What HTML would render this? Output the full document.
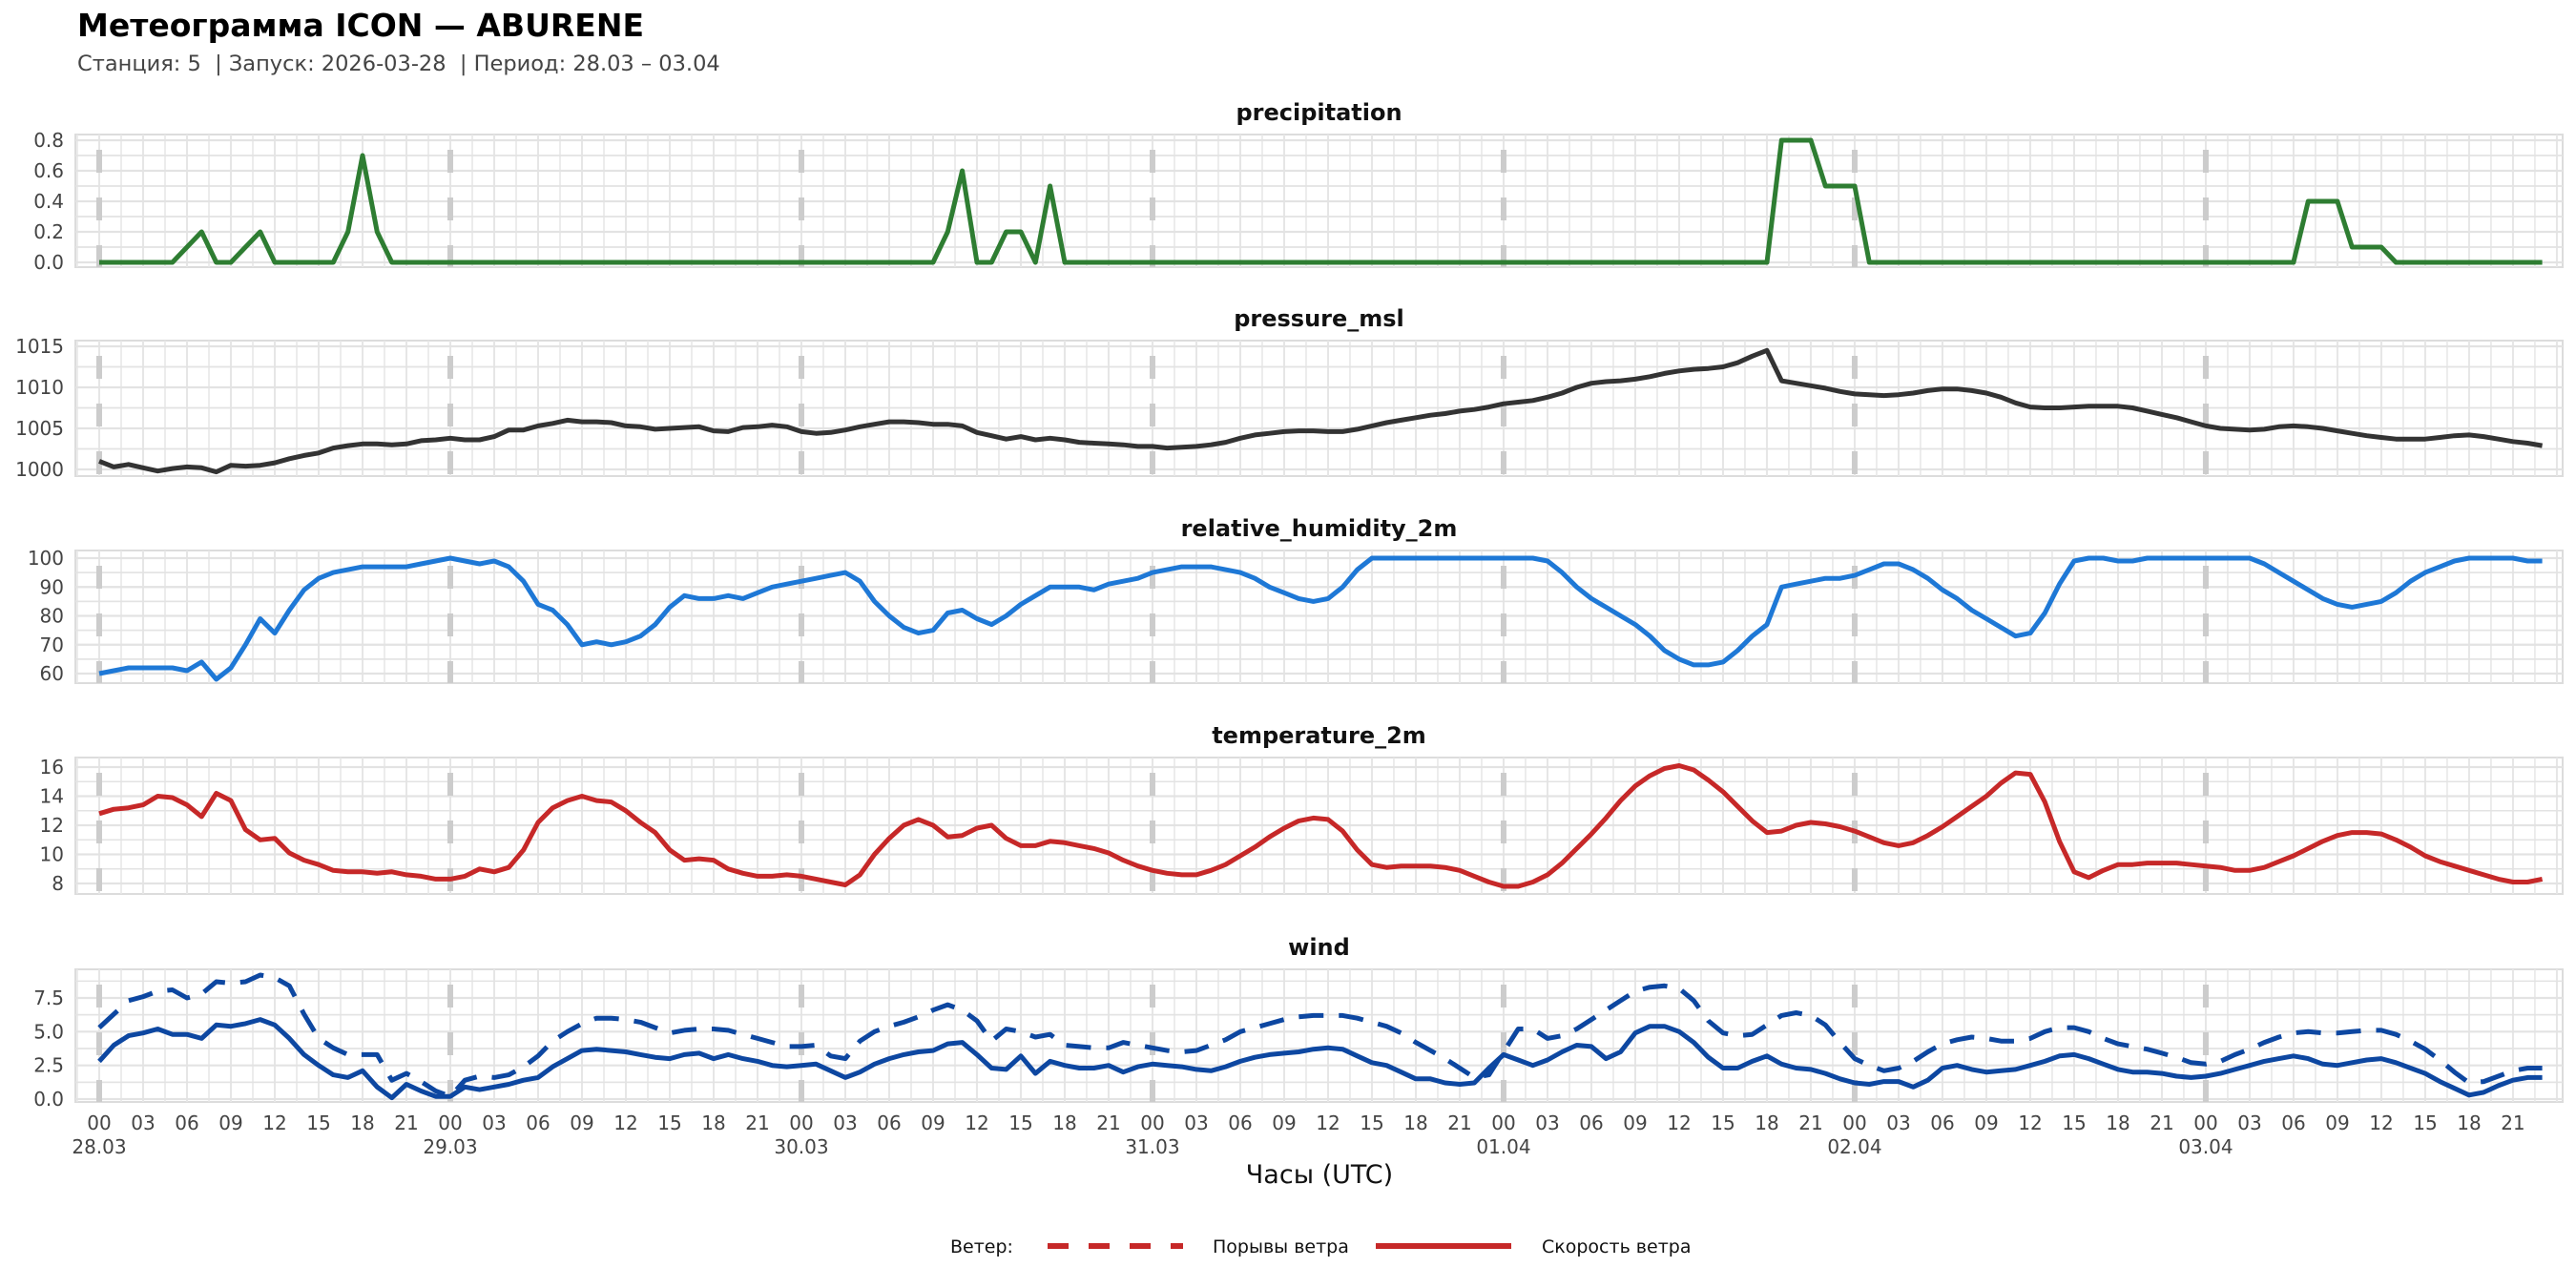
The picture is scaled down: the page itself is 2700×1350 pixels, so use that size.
<!DOCTYPE html>
<html><head><meta charset="utf-8">
<style>
html,body{margin:0;padding:0;background:#fff;}
svg{display:block;font-family:"DejaVu Sans","Liberation Sans",sans-serif;}
</style></head>
<body>
<svg id="chart" width="2700" height="1350" viewBox="0 0 2700 1350" xmlns="http://www.w3.org/2000/svg">
<text x="81" y="38" font-size="33" font-weight="bold" fill="#000">Метеограмма ICON — ABURENE</text>
<text x="81" y="74" font-size="22.5" fill="#444">Станция: 5&#160; | Запуск: 2026-03-28&#160; | Период: 28.03 – 03.04</text>
<text x="1383" y="1240" font-size="27" fill="#111" text-anchor="middle">Часы (UTC)</text>
<g>
<text x="996" y="1313" font-size="19" fill="#111">Ветер:</text>
<line x1="1098" y1="1306" x2="1240" y2="1306" stroke="#c62828" stroke-width="6" stroke-dasharray="22 21"/>
<text x="1271" y="1313" font-size="19" fill="#111">Порывы ветра</text>
<line x1="1442" y1="1306" x2="1584" y2="1306" stroke="#c62828" stroke-width="6"/>
<text x="1616" y="1313" font-size="19" fill="#111">Скорость ветра</text>
</g>
</svg>
<script>
const hours = Array.from({length:168},(_,i)=>i);
const dayLabels = ["28.03","29.03","30.03","31.03","01.04","02.04","03.04"];
const hourTickLabels = ["00","03","06","09","12","15","18","21"];
const precipitation = [
0,0,0,0,0,0,0.1,0.2,0,0,0.1,0.2,0,0,0,0,0,0.2,0.7,0.2,0,0,0,0,
0,0,0,0,0,0,0,0,0,0,0,0,0,0,0,0,0,0,0,0,0,0,0,0,
0,0,0,0,0,0,0,0,0,0,0.2,0.6,0,0,0.2,0.2,0,0.5,0,0,0,0,0,0,
0,0,0,0,0,0,0,0,0,0,0,0,0,0,0,0,0,0,0,0,0,0,0,0,
0,0,0,0,0,0,0,0,0,0,0,0,0,0,0,0,0,0,0,0.8,0.8,0.8,0.5,0.5,
0.5,0,0,0,0,0,0,0,0,0,0,0,0,0,0,0,0,0,0,0,0,0,0,0,
0,0,0,0,0,0,0,0.4,0.4,0.4,0.1,0.1,0.1,0,0,0,0,0,0,0,0,0,0,0];
const pressure = [
1001,1000.3,1000.6,1000.2,999.8,1000.1,1000.3,1000.2,999.7,1000.5,1000.4,1000.5,1000.8,1001.3,1001.7,1002,1002.6,1002.9,1003.1,1003.1,1003,1003.1,1003.5,1003.6,
1003.8,1003.6,1003.6,1004,1004.8,1004.8,1005.3,1005.6,1006,1005.8,1005.8,1005.7,1005.3,1005.2,1004.9,1005,1005.1,1005.2,1004.7,1004.6,1005.1,1005.2,1005.4,1005.2,
1004.6,1004.4,1004.5,1004.8,1005.2,1005.5,1005.8,1005.8,1005.7,1005.5,1005.5,1005.3,1004.5,1004.1,1003.7,1004,1003.6,1003.8,1003.6,1003.3,1003.2,1003.1,1003,1002.8,
1002.8,1002.6,1002.7,1002.8,1003,1003.3,1003.8,1004.2,1004.4,1004.6,1004.7,1004.7,1004.6,1004.6,1004.9,1005.3,1005.7,1006,1006.3,1006.6,1006.8,1007.1,1007.3,1007.6,
1008,1008.2,1008.4,1008.8,1009.3,1010,1010.5,1010.7,1010.8,1011,1011.3,1011.7,1012,1012.2,1012.3,1012.5,1013,1013.8,1014.5,1010.8,1010.5,1010.2,1009.9,1009.5,
1009.2,1009.1,1009,1009.1,1009.3,1009.6,1009.8,1009.8,1009.6,1009.3,1008.8,1008.1,1007.6,1007.5,1007.5,1007.6,1007.7,1007.7,1007.7,1007.5,1007.1,1006.7,1006.3,1005.8,
1005.3,1005,1004.9,1004.8,1004.9,1005.2,1005.3,1005.2,1005,1004.7,1004.4,1004.1,1003.9,1003.7,1003.7,1003.7,1003.9,1004.1,1004.2,1004,1003.7,1003.4,1003.2,1002.9];
const humidity = [
60,61,62,62,62,62,61,64,58,62,70,79,74,82,89,93,95,96,97,97,97,97,98,99,
100,99,98,99,97,92,84,82,77,70,71,70,71,73,77,83,87,86,86,87,86,88,90,91,
92,93,94,95,92,85,80,76,74,75,81,82,79,77,80,84,87,90,90,90,89,91,92,93,
95,96,97,97,97,96,95,93,90,88,86,85,86,90,96,100,100,100,100,100,100,100,100,100,
100,100,100,99,95,90,86,83,80,77,73,68,65,63,63,64,68,73,77,90,91,92,93,93,
94,96,98,98,96,93,89,86,82,79,76,73,74,81,91,99,100,100,99,99,100,100,100,100,
100,100,100,100,98,95,92,89,86,84,83,84,85,88,92,95,97,99,100,100,100,100,99,99];
const temperature = [
12.8,13.1,13.2,13.4,14.0,13.9,13.4,12.6,14.2,13.7,11.7,11.0,11.1,10.1,9.6,9.3,8.9,8.8,8.8,8.7,8.8,8.6,8.5,8.3,
8.3,8.5,9.0,8.8,9.1,10.3,12.2,13.2,13.7,14.0,13.7,13.6,13.0,12.2,11.5,10.3,9.6,9.7,9.6,9.0,8.7,8.5,8.5,8.6,
8.5,8.3,8.1,7.9,8.6,10.0,11.1,12.0,12.4,12.0,11.2,11.3,11.8,12.0,11.1,10.6,10.6,10.9,10.8,10.6,10.4,10.1,9.6,9.2,
8.9,8.7,8.6,8.6,8.9,9.3,9.9,10.5,11.2,11.8,12.3,12.5,12.4,11.6,10.3,9.3,9.1,9.2,9.2,9.2,9.1,8.9,8.5,8.1,
7.8,7.8,8.1,8.6,9.4,10.4,11.4,12.5,13.7,14.7,15.4,15.9,16.1,15.8,15.1,14.3,13.3,12.3,11.5,11.6,12.0,12.2,12.1,11.9,
11.6,11.2,10.8,10.6,10.8,11.3,11.9,12.6,13.3,14.0,14.9,15.6,15.5,13.6,10.9,8.8,8.4,8.9,9.3,9.3,9.4,9.4,9.4,9.3,
9.2,9.1,8.9,8.9,9.1,9.5,9.9,10.4,10.9,11.3,11.5,11.5,11.4,11.0,10.5,9.9,9.5,9.2,8.9,8.6,8.3,8.1,8.1,8.3];
const windSpeed = [
2.8,4.0,4.7,4.9,5.2,4.8,4.8,4.5,5.5,5.4,5.6,5.9,5.5,4.5,3.3,2.5,1.8,1.6,2.1,0.9,0.1,1.1,0.6,0.2,
0.2,0.9,0.7,0.9,1.1,1.4,1.6,2.4,3.0,3.6,3.7,3.6,3.5,3.3,3.1,3.0,3.3,3.4,3.0,3.3,3.0,2.8,2.5,2.4,
2.5,2.6,2.1,1.6,2.0,2.6,3.0,3.3,3.5,3.6,4.1,4.2,3.3,2.3,2.2,3.2,1.9,2.8,2.5,2.3,2.3,2.5,2.0,2.4,
2.6,2.5,2.4,2.2,2.1,2.4,2.8,3.1,3.3,3.4,3.5,3.7,3.8,3.7,3.2,2.7,2.5,2.0,1.5,1.5,1.2,1.1,1.2,2.3,
3.3,2.9,2.5,2.9,3.5,4.0,3.9,3.0,3.5,4.9,5.4,5.4,5.0,4.2,3.1,2.3,2.3,2.8,3.2,2.6,2.3,2.2,1.9,1.5,
1.2,1.1,1.3,1.3,0.9,1.4,2.3,2.5,2.2,2.0,2.1,2.2,2.5,2.8,3.2,3.3,3.0,2.6,2.2,2.0,2.0,1.9,1.7,1.6,
1.7,1.9,2.2,2.5,2.8,3.0,3.2,3.0,2.6,2.5,2.7,2.9,3.0,2.7,2.3,1.9,1.3,0.8,0.3,0.5,1.0,1.4,1.6,1.6];
const windGust = [
5.3,6.3,7.3,7.6,8.0,8.1,7.5,7.8,8.7,8.6,8.7,9.2,9.0,8.4,6.3,4.5,3.8,3.3,3.3,3.3,1.4,1.9,1.3,0.6,
0.2,1.4,1.7,1.6,1.8,2.4,3.2,4.3,5.0,5.6,6.0,6.0,5.9,5.7,5.3,4.9,5.1,5.2,5.2,5.1,4.8,4.5,4.2,3.9,
3.9,4.0,3.2,3.0,4.3,5.0,5.4,5.7,6.1,6.6,7.0,6.6,5.8,4.3,5.2,5.0,4.6,4.8,4.0,3.9,3.8,3.8,4.2,4.0,
3.8,3.6,3.5,3.6,4.0,4.4,5.0,5.3,5.6,5.9,6.1,6.2,6.2,6.2,6.0,5.7,5.4,4.9,4.2,3.6,3.0,2.3,1.6,1.8,
3.5,5.2,5.2,4.5,4.7,5.2,5.9,6.6,7.3,8.0,8.3,8.4,8.2,7.3,5.8,4.9,4.7,4.8,5.5,6.2,6.4,6.2,5.5,4.2,
3.0,2.5,2.1,2.3,2.8,3.5,4.1,4.4,4.6,4.5,4.3,4.3,4.5,5.0,5.3,5.3,5.0,4.5,4.1,3.9,3.7,3.4,3.1,2.7,
2.6,2.8,3.3,3.7,4.2,4.6,4.9,5.0,4.9,4.9,5.0,5.1,5.1,4.8,4.3,3.7,2.9,2.0,1.2,1.3,1.7,2.1,2.3,2.3];
const precipTicks = [0,0.2,0.4,0.6,0.8];
const pressureTicks = [1000,1005,1010,1015];
const humidityTicks = [60,70,80,90,100];
const temperatureTicks = [8,10,12,14,16];
const windTicks = [0,2.5,5,7.5];

const NS="http://www.w3.org/2000/svg";
const svg=document.getElementById('chart');
const PL=79, PR=2686;
function xs(h){return 104 + h*15.333;}
function mk(tag,attrs,parent){const e=document.createElementNS(NS,tag);for(const k in attrs)e.setAttribute(k,attrs[k]);(parent||svg).appendChild(e);return e;}
function linScale(v0,p0,v1,p1){return v=>p0+(v-v0)*(p1-p0)/(v1-v0);}

const panels=[
 {name:'precipitation',title:'precipitation',top:141,bottom:280,ys:linScale(0,275,0.8,147),ticks:precipTicks,fmt:v=>v.toFixed(1),series:[{d:precipitation,c:'#2e7d32'}]},
 {name:'pressure',title:'pressure_msl',top:357,bottom:499,ys:linScale(1000,492,1015,363),ticks:pressureTicks,fmt:v=>String(v),series:[{d:pressure,c:'#333333'}]},
 {name:'humidity',title:'relative_humidity_2m',top:577,bottom:716,ys:linScale(60,706,100,585),ticks:humidityTicks,fmt:v=>String(v),series:[{d:humidity,c:'#1e78d6'}]},
 {name:'temperature',title:'temperature_2m',top:794,bottom:937,ys:linScale(8,926,16,804),ticks:temperatureTicks,fmt:v=>String(v),series:[{d:temperature,c:'#c62828'}]},
 {name:'wind',title:'wind',top:1016,bottom:1155,ys:linScale(0,1152,7.5,1046),ticks:windTicks,fmt:v=>v.toFixed(1),series:[{d:windGust,c:'#0d47a1',dash:'26 16'},{d:windSpeed,c:'#0d47a1'}]}
];

panels.forEach(p=>{
  const g=mk('g',{});
  
  
  const bg=mk('rect',{x:PL,y:p.top,width:PR-PL,height:p.bottom-p.top,fill:'#fff',stroke:'#dcdcdc','stroke-width':2},g);
  
  
  for(let h=-1.5;h<=168;h+=1.5){
    const x=xs(h); if(x<PL||x>PR) continue;
    const major=(h%3===0);
    const l=mk('line',{x1:x,x2:x,y1:p.top,y2:p.bottom,stroke:'#e6e6e6','stroke-width':major?2:1.5},g);
    
    
  }
  const step=p.ticks[1]-p.ticks[0];
  const hv=[];
  p.ticks.forEach(t=>{hv.push([t,true]);hv.push([t+step/2,false]);hv.push([t-step/2,false]);});
  hv.forEach(([v,major])=>{
    const y=p.ys(v); if(y<p.top||y>p.bottom) return;
    const l=mk('line',{x1:PL,x2:PR,y1:y,y2:y,stroke:'#e3e3e3','stroke-width':major?2.2:1.5},g);
    
    
  });
  for(let d=0;d<dayLabels.length;d++){
    const x=xs(d*24);
    const l=mk('line',{x1:x,x2:x,y1:p.top+16,y2:p.bottom,stroke:'#cccccc','stroke-width':6,'stroke-dasharray':'24 26'},g);
    
    
  }
  p.ticks.forEach(t=>{
    const tx=mk('text',{x:67,y:p.ys(t)+7,'font-size':20,fill:'#444','text-anchor':'end'},g);
    tx.textContent=p.fmt(t);
    
    
  });
  const tt=mk('text',{x:(PL+PR)/2,y:p.top-15,'font-size':24,'font-weight':'bold',fill:'#111','text-anchor':'middle'},g);
  tt.textContent=p.title;
  
  
  p.series.forEach((s,si)=>{
    const pts=s.d.map((v,i)=>xs(hours[i]).toFixed(1)+','+p.ys(v).toFixed(1)).join(' ');
    const attrs={points:pts,fill:'none',stroke:s.c,'stroke-width':5,'stroke-linejoin':'round'};
    if(s.dash) attrs['stroke-dasharray']=s.dash;
    const pl=mk('polyline',attrs,g);
    
    
  });
});

for(let h=0;h<168;h+=3){
  const t=mk('text',{x:xs(h),y:1184,'font-size':20,fill:'#444','text-anchor':'middle'});
  t.textContent=hourTickLabels[(h%24)/3];
  
  
}
dayLabels.forEach((d,i)=>{
  const t=mk('text',{x:xs(i*24),y:1209,'font-size':20,fill:'#444','text-anchor':'middle'});
  t.textContent=d;
  
  
});
</script>
</body></html>
